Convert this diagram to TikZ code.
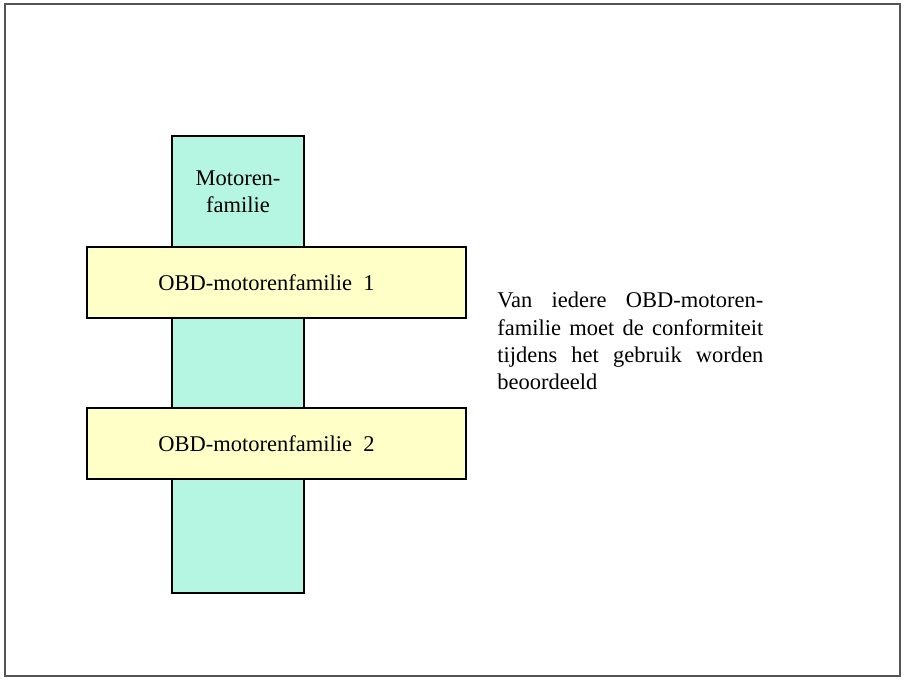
\documentclass[tikz,border=0pt]{standalone}
\usepackage{fontspec}
\setmainfont{Liberation Serif}
\usetikzlibrary{positioning}
\definecolor{famcyan}{RGB}{180,246,226}
\definecolor{obdyellow}{RGB}{255,255,200}
\definecolor{framegray}{RGB}{85,85,85}
\tikzset{
  box/.style={draw=black, line width=1pt, inner sep=0pt, align=center},
  famtext/.style={font=\fontsize{12.8}{15.5}\selectfont}
}

\begin{document}
\begin{tikzpicture}[x=0.02cm, y=-0.02cm]
  % Page frame
  \useasboundingbox (0,0) rectangle (915,681);
  \draw[framegray, line width=1.6pt] (5,4) rectangle (900,676);

  % Engine family (vertical bar)
  \node[box, fill=famcyan, minimum width=2.64cm, minimum height=9.14cm, famtext,
        anchor=north] (motfam) at (238,135) {};
  \node[famtext, align=center] (motlabel) at (238,192) {Motoren-\\familie};

  % OBD engine families
  \node[box, fill=obdyellow, minimum width=7.58cm, minimum height=1.42cm, famtext]
    (obd1) at (276.5,282.5) {OBD-motorenfamilie\ \ 1\hspace{0.4cm}};
  \node[box, fill=obdyellow, minimum width=7.58cm, minimum height=1.42cm, famtext]
    (obd2) at (276.5,443.5) {OBD-motorenfamilie\ \ 2\hspace{0.4cm}};

  % Annotation
  \node[famtext, text width=5.32cm, align=justify, inner sep=0pt, anchor=north west]
    (note) at (497,292) {Van iedere OBD-motoren-\linebreak familie moet de conformiteit tijdens het gebruik worden beoordeeld};
\end{tikzpicture}
\end{document}
